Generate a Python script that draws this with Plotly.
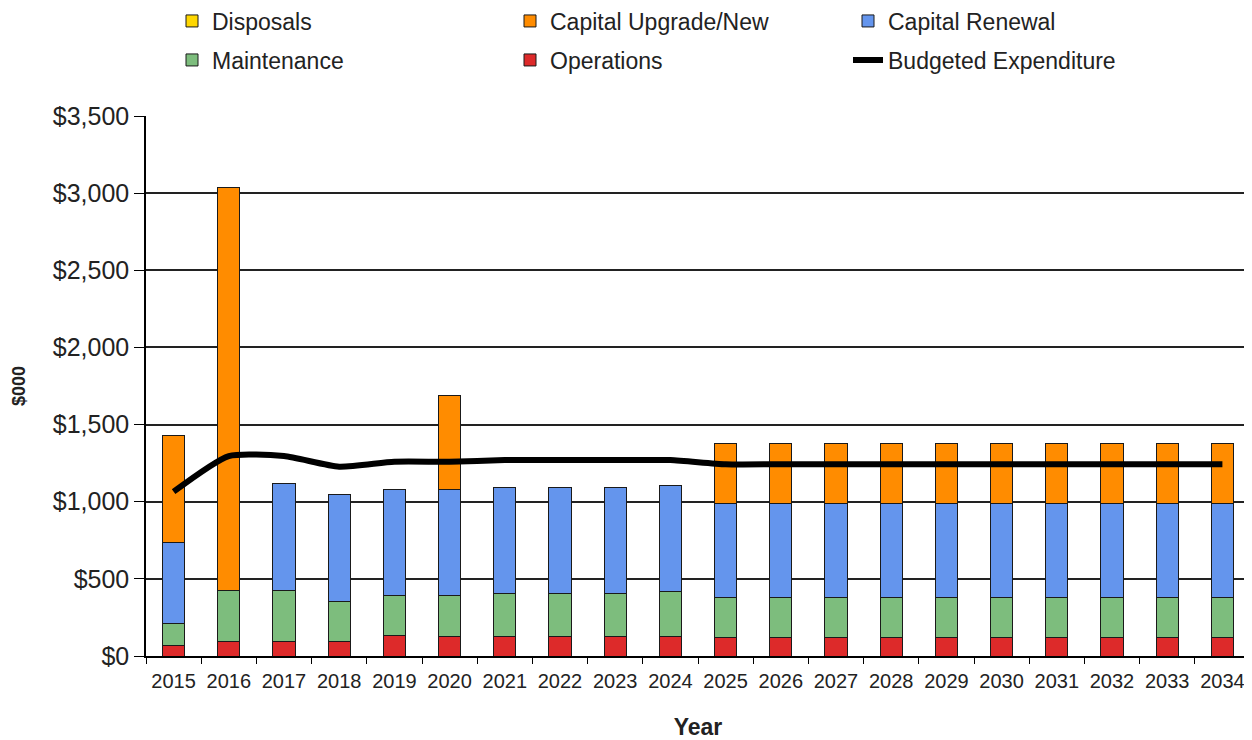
import plotly.graph_objects as go

years = [str(y) for y in range(2015, 2035)]
operations = [71, 93, 93, 93, 130, 125, 125, 125, 125, 125] + [119] * 10
maintenance = [141, 330, 330, 259, 261, 268, 277, 277, 277, 292] + [261] * 10
capital_renewal = [525, 0, 696, 696, 689, 689, 691, 691, 691, 691] + [608] * 10
capital_upgrade = [691, 2614, 0, 0, 0, 609, 0, 0, 0, 0] + [392] * 10
disposals = [0] * 20
budgeted = [1065, 1296, 1296, 1227, 1259, 1259, 1270, 1270, 1270, 1270] + [1243] * 10

FONT = "Liberation Sans"
OUT = dict(color="#1a1a1a", width=1)

fig = go.Figure()
bars = [
    ("Operations", operations, "#DD2A2A", "legend2", 2),
    ("Maintenance", maintenance, "#7DBD7D", "legend2", 1),
    ("Capital Renewal", capital_renewal, "#6495ED", "legend", 3),
    ("Capital Upgrade/New", capital_upgrade, "#FF8C00", "legend", 2),
    ("Disposals", disposals, "#FFD700", "legend", 1),
]
for name, vals, col, lg, rank in bars:
    fig.add_trace(go.Bar(x=years, y=vals, name=name, marker=dict(color=col, line=OUT),
                         legend=lg, legendrank=rank))

fig.add_trace(go.Scatter(x=years, y=budgeted, name="Budgeted Expenditure", mode="lines",
                         line=dict(color="black", width=6, shape="spline", smoothing=0.6),
                         legend="legend2", legendrank=3))

# page body has an 8px offset; figure sized so the plot area lands where the reference has it
W, H = 1244, 732
L, T, R, B = 138, 108, 2, 84

legend_common = dict(orientation="h", xanchor="left", yanchor="middle",
                     xref="container", yref="container",
                     font=dict(family=FONT, size=23, color="#222"),
                     entrywidth=293, entrywidthmode="pixels", bgcolor="rgba(0,0,0,0)",
                     traceorder="normal", itemclick=False)

fig.update_layout(
    width=W, height=H,
    margin=dict(l=L, r=R, t=T, b=B, autoexpand=False),
    paper_bgcolor="white", plot_bgcolor="white",
    barmode="stack", bargap=0.6,
    font=dict(family=FONT, color="#222"),
    legend=dict(x=(172 - 8) / W, y=1 - (21 - 8) / H, **legend_common),
    legend2=dict(x=(172 - 8) / W, y=1 - (60 - 8) / H, **legend_common),
    xaxis=dict(
        type="category", showgrid=False, showline=True, linecolor="black", linewidth=1.5,
        ticks="outside", ticklen=6, tickcolor="black", tickson="boundaries",
        ticklabelstandoff=6,
        tickfont=dict(family=FONT, size=20, color="#222"),
        title=dict(text="<b>Year</b>", font=dict(family=FONT, size=23, color="#222"), standoff=29),
    ),
    yaxis=dict(
        range=[0, 3500], tickvals=[0, 500, 1000, 1500, 2000, 2500, 3000, 3500],
        ticktext=["$0", "$500", "$1,000", "$1,500", "$2,000", "$2,500", "$3,000", "$3,500"],
        showgrid=True, gridcolor="#222222", gridwidth=1.5,
        showline=True, linecolor="black", linewidth=1.5, mirror=True,
        ticks="outside", ticklen=10, tickcolor="black",
        tickfont=dict(family=FONT, size=25, color="#222"),
        title=dict(text="<b>$000</b>", font=dict(family=FONT, size=18, color="#222"), standoff=22),
        zeroline=False,
    ),
)

fig.write_html("out.html")
